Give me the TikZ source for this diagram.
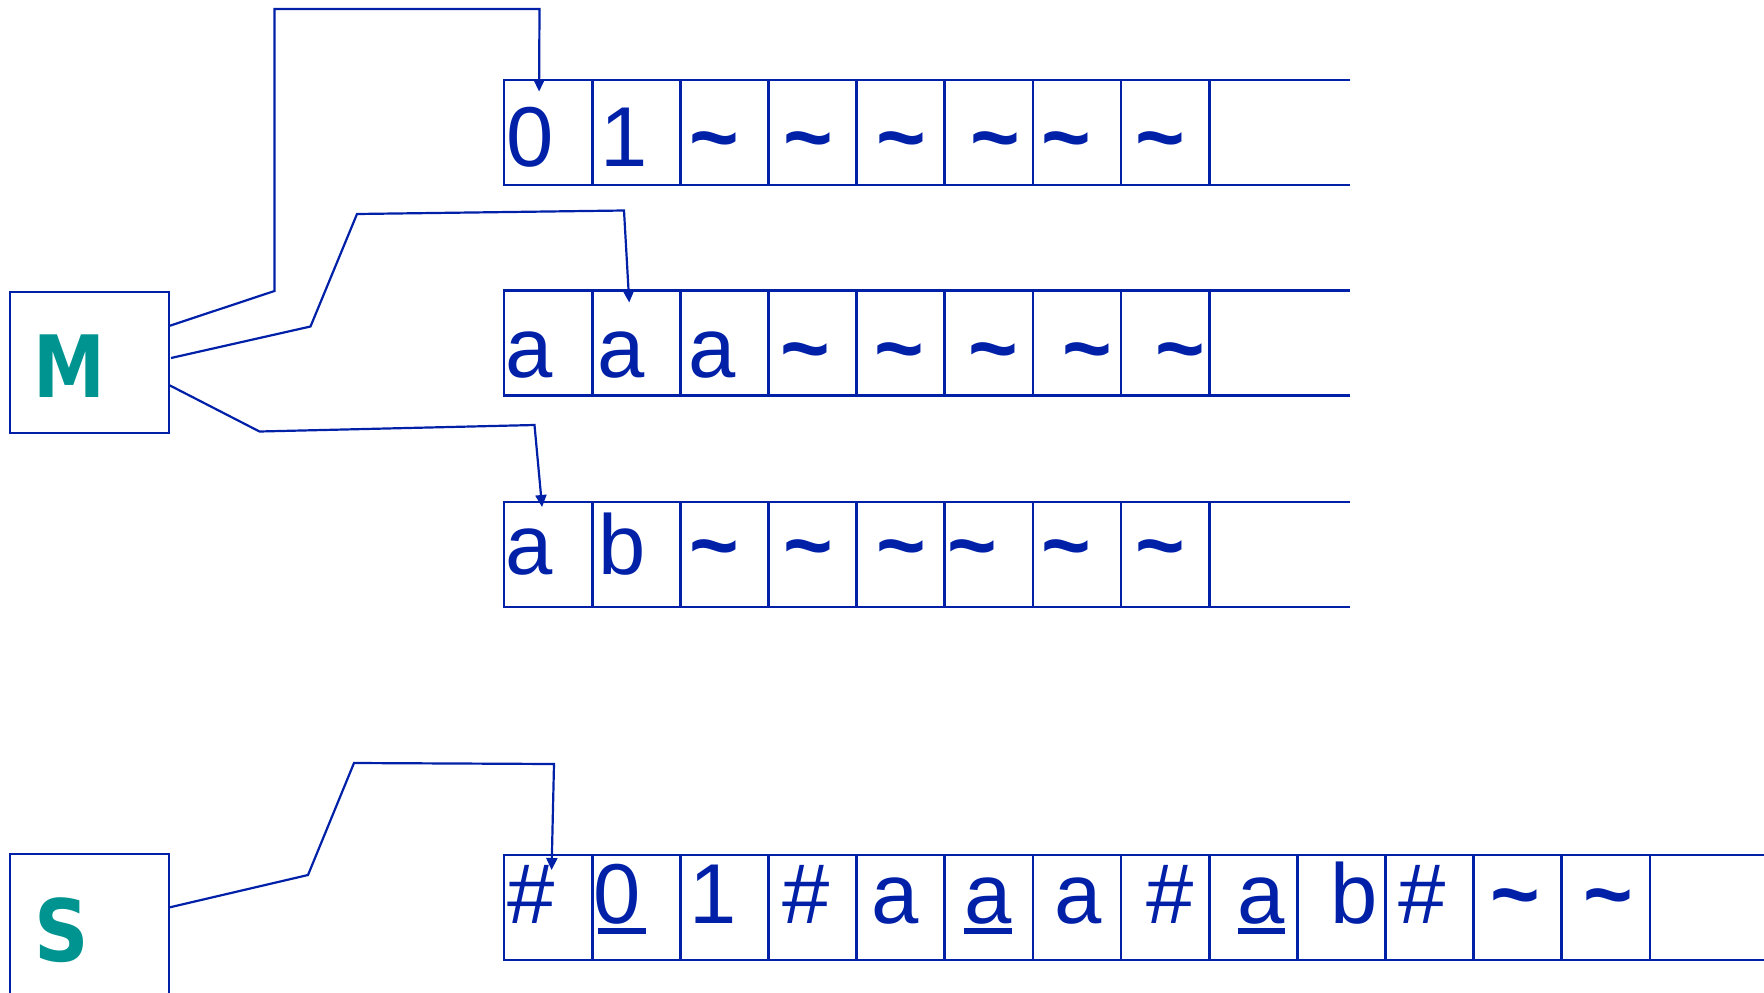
\documentclass[tikz,border=0pt]{standalone}
\usepackage{fontspec}
\setmainfont{Liberation Sans}
\newfontfamily\handfont{DejaVu Sans}
\usetikzlibrary{arrows.meta}
\definecolor{tblue}{RGB}{0,32,168}
\definecolor{tealm}{RGB}{0,148,144}
\newcommand\tld{{\bfseries\textasciitilde}}
\begin{document}
\begin{tikzpicture}[x=1pt,y=-1pt,
  box/.style={draw=tblue,line width=2.8pt,rectangle,inner sep=0pt,outer sep=0pt,minimum width=159pt},
  cell/.style={draw=tblue,line width=2.8pt,rectangle,inner sep=0pt,outer sep=0pt,minimum width=88.15pt,minimum height=105pt},
  tapeline/.style={draw=tblue,line width=2.8pt},
  sym/.style={text=tblue,font=\fontsize{85}{90}\selectfont,inner sep=0pt,anchor=base},
  letter/.style={text=tealm,font=\handfont\bfseries\fontsize{86}{90}\selectfont,inner sep=0pt},
  conn/.style={draw=tblue,line width=2.2pt,-{Triangle[length=12pt,width=11pt]}},
  ul/.style={draw=tblue,line width=5.5pt}]
\clip (0,0) rectangle (1764,993);
% tapes 1-3
\foreach \r/\ty in {1/80,2/290.5,3/502} {
  \foreach \i in {1,...,8} {
    \node[cell] (t\r-\i) at ({504+88.15*(\i-0.5)}, \ty+52.5) {};
  }
  \draw[tapeline] (t\r-8.north east) -- ++(141,0);
  \draw[tapeline] (t\r-8.south east) -- ++(141,0);
}
% tape 4
\foreach \i in {1,...,13} {
  \node[cell] (t4-\i) at ({504+88.15*(\i-0.5)}, 907.5) {};
}
\draw[tapeline] (t4-13.north east) -- ++(200,0);
\draw[tapeline] (t4-13.south east) -- ++(200,0);
% symbols
\foreach \x/\s [count=\k] in {530.5/0, 624/1, 714/\tld, 808/\tld, 901/\tld, 995/\tld, 1066/\tld, 1160/\tld}
  \node[sym] (s1-\k) at (\x,166) {\s};
\foreach \x/\s [count=\k] in {529.5/a, 621.5/a, 712.5/a, 805.5/\tld, 899.5/\tld, 993.5/\tld, 1087/\tld, 1180.5/\tld}
  \node[sym] (s2-\k) at (\x,377) {\s};
\foreach \x/\s [count=\k] in {529.5/a, 622.5/b, 714/\tld, 808/\tld, 901.5/\tld, 972.5/\tld, 1066/\tld, 1160/\tld}
  \node[sym] (s3-\k) at (\x,574) {\s};
\foreach \x/\s [count=\k] in {531/\#, 617/0, 713/1, 806/\#, 895.5/a, 988/a, 1078.5/a, 1170/\#, 1261.5/a, 1354/b, 1422.5/\#, 1515/\tld, 1608/\tld}
  \node[sym] (s4-\k) at (\x,923) {\s};
\draw[ul] ([xshift=5pt,yshift=-8pt]s4-2.base west) -- ([xshift=5pt,yshift=-8pt]s4-2.base east);
\draw[ul] ([yshift=-8pt]s4-6.base west) -- ([yshift=-8pt]s4-6.base east);
\draw[ul] ([yshift=-8pt]s4-9.base west) -- ([yshift=-8pt]s4-9.base east);
% machines
\node[box,minimum height=141pt] (M) at (89.5,362.5) {};
\node[letter] (Mtxt) at (69,366.5) {\scalebox{0.84}[1]{M}};
\node[box,minimum height=160pt] (S) at (89.5,934) {};
\node[letter] (Stxt) at (61.5,930) {\scalebox{0.88}[1]{S}};
% connectors
\draw[conn] ([yshift=36.5pt]M.east) -- (274.5,291) -- (274.5,9) -- (539.5,9) -- ([xshift=-9pt,yshift=-11.5pt]t1-1.north);
\draw[conn] ([xshift=2pt,yshift=4.5pt]M.east) -- (310.5,326.5) -- (357,214) -- (624,210.5) -- ([xshift=-7pt,yshift=-12pt]t2-2.north);
\draw[conn] ([yshift=-22.5pt]M.east) -- (259.5,431.5) -- (534.5,425) -- ([xshift=-6pt,yshift=-5pt]t3-1.north);
\draw[conn] ([yshift=26.5pt]S.east) -- (308,875) -- (354,763) -- (554,764) -- ([xshift=3.5pt,yshift=-15pt]t4-1.north);
\end{tikzpicture}
\end{document}
